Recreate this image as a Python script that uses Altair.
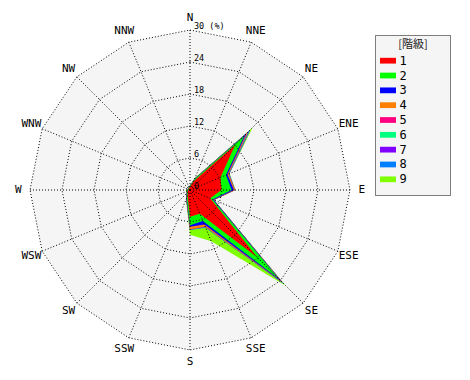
import altair as alt
import pandas as pd
import numpy as np

# ---------------- data ----------------
directions = ["N", "NNE", "NE", "ENE", "E", "ESE", "SE", "SSE",
              "S", "SSW", "SW", "WSW", "W", "WNW", "NW", "NNW"]
classes = ["1", "2", "3", "4", "5", "6", "7", "8", "9"]
class_colors = ["#ff0000", "#00ff00", "#0000ff", "#ff8000", "#ff0080",
                "#00ff80", "#8000ff", "#0080ff", "#80ff00"]

# frequency (%) of each class per direction (N, NNE, ... NNW)
c1 = [0.6, 1.8, 12.0, 6.2, 5.9, 4.1, 17.8, 4.8, 5.0, 1.2, 0.6, 0.4, 0.4, 0.3, 0.3, 0.4]
c2 = [0.2, 0.4, 2.4, 1.1, 1.9, 0.5, 5.8, 1.5, 1.6, 0.4, 0.2, 0.1, 0.1, 0.1, 0.1, 0.1]
c3 = [0.05, 0.1, 0.5, 0.3, 0.45, 0.2, 0.5, 0.7, 0.3, 0.2, 0.1, 0.05, 0.05, 0.0, 0.0, 0.0]
c4 = [0.0, 0.05, 0.3, 0.2, 0.15, 0.05, 0.3, 0.4, 0.45, 0.05, 0.0, 0.0, 0.0, 0.0, 0.0, 0.0]
c5 = [0.0, 0.0, 0.2, 0.05, 0.05, 0.0, 0.15, 0.05, 0.05, 0.0, 0.0, 0.0, 0.0, 0.0, 0.0, 0.0]
c6 = [0.0, 0.0, 0.2, 0.05, 0.0, 0.0, 0.1, 0.05, 0.05, 0.0, 0.0, 0.0, 0.0, 0.0, 0.0, 0.0]
c7 = [0.0, 0.0, 0.2, 0.05, 0.0, 0.0, 0.1, 0.05, 0.0, 0.0, 0.0, 0.0, 0.0, 0.0, 0.0, 0.0]
c8 = [0.0, 0.0, 0.2, 0.05, 0.0, 0.0, 0.15, 0.1, 0.05, 0.0, 0.0, 0.0, 0.0, 0.0, 0.0, 0.0]
c9 = [0.05, 0.15, 0.6, 0.05, 0.1, 0.05, 0.4, 2.75, 0.9, 0.15, 0.1, 0.15, 0.25, 0.05, 0.05, 0.05]
class_values = [c1, c2, c3, c4, c5, c6, c7, c8, c9]

ring_values = [6, 12, 18, 24, 30]
tick_values = [0, 6, 12, 18, 24, 30]
tick_labels = ["0", "6", "12", "18", "24", "30 (%)"]
legend_title = "[階級]"

r_max = 30
label_r = 32.2
span = 34.125

# ---------------- tables ----------------
rows = []
cum = np.zeros(len(directions))
for k, vals in enumerate(class_values):
    cum = cum + np.array(vals)
    for i in range(len(directions) + 1):
        rows.append({"cls": classes[k], "i": i, "r": float(cum[i % len(directions)])})
stack_df = pd.DataFrame(rows)

ring_df = pd.DataFrame([{"ring": rv, "i": i, "r": rv}
                        for rv in ring_values for i in range(len(directions) + 1)])
dir_df = pd.DataFrame({"dir": directions, "i": list(range(len(directions)))})
tick_df = pd.DataFrame({"t": tick_values, "lab": tick_labels})
leg_df = pd.DataFrame({"cls": classes})
one_df = pd.DataFrame({"a": [0]})

xs = alt.Scale(domain=[-span, span], nice=False, zero=False)
ys = alt.Scale(domain=[-span, span], nice=False, zero=False)
X = alt.X("x:Q", scale=xs, axis=None)
Y = alt.Y("y:Q", scale=ys, axis=None)
color_scale = alt.Scale(domain=classes, range=class_colors)
TH = "datum.i * PI / 8"


def polar(chart):
    return chart.transform_calculate(
        th=TH, x="datum.r * sin(datum.th)", y="datum.r * cos(datum.th)")


bg = polar(alt.Chart(ring_df).transform_filter(f"datum.ring == {r_max}")).mark_line(
    interpolate="linear-closed", strokeOpacity=0
).encode(x=X, y=Y, order=alt.Order("i:Q"), fill=alt.value("#f5f5f5"))

layers = [bg]
for k in reversed(range(len(classes))):
    layers.append(
        polar(alt.Chart(stack_df).transform_filter(f"datum.cls == '{classes[k]}'")).mark_line(
            interpolate="linear-closed", strokeOpacity=0
        ).encode(x=X, y=Y, order=alt.Order("i:Q"),
                 fill=alt.Fill("cls:N", scale=color_scale, legend=None))
    )

rings = polar(alt.Chart(ring_df)).mark_line(
    stroke="black", strokeWidth=1, strokeDash=[1, 2]
).encode(x=X, y=Y, order=alt.Order("i:Q"), detail="ring:N")

spokes = alt.Chart(dir_df).transform_calculate(
    th=TH, x="0", y="0",
    x2=f"{r_max} * sin(datum.th)", y2=f"{r_max} * cos(datum.th)"
).mark_rule(stroke="black", strokeWidth=1, strokeDash=[1, 2]).encode(
    x=X, y=Y, x2="x2:Q", y2="y2:Q")

dir_labels = alt.Chart(dir_df).transform_calculate(
    th=TH, x=f"{label_r} * sin(datum.th)", y=f"{label_r} * cos(datum.th)"
).mark_text(font="DejaVu Sans Mono", fontSize=11, color="black",
            align="center", baseline="middle").encode(x=X, y=Y, text="dir:N")

ticks = alt.Chart(tick_df).transform_calculate(x="0", y="datum.t").mark_text(
    font="DejaVu Sans Mono", fontSize=8.5, color="black",
    align="left", baseline="bottom", dx=4, dy=1
).encode(x=X, y=Y, text="lab:N")

main = alt.layer(*layers, rings, spokes, dir_labels, ticks).properties(width=364, height=364)

# ---------------- legend panel ----------------
LY = alt.Y("cls:N", scale=alt.Scale(domain=classes, range=[52.7, 171.3], padding=0), axis=None)

box = alt.Chart(one_df).mark_rect(
    fill="#f5f5f5", stroke="black", strokeWidth=1, strokeDash=[1, 1]
).encode(x=alt.value(0.5), x2=alt.value(75.5), y=alt.value(27.5), y2=alt.value(187.5))

title = alt.Chart(one_df).mark_text(
    text=legend_title, font="Noto Sans CJK JP", fontSize=11, color="#222222",
    align="center", baseline="middle"
).encode(x=alt.value(38), y=alt.value(37))

swatches = alt.Chart(leg_df).mark_point(
    shape="M-1,-0.36H1V0.36H-1Z", size=256, filled=True, opacity=1
).encode(x=alt.value(13), y=LY, fill=alt.Fill("cls:N", scale=color_scale, legend=None))

labels = alt.Chart(leg_df).mark_text(
    font="DejaVu Sans Mono", fontSize=12, color="black", align="left", baseline="middle"
).encode(x=alt.value(24.5), y=LY, text="cls:N")

legend = alt.layer(box, title, swatches, labels).properties(width=76, height=188)

chart = alt.hconcat(main, legend, spacing=3).properties(padding=0).configure_view(strokeWidth=0)

chart.save("out.html", embed_options={"renderer": "svg", "actions": False})
